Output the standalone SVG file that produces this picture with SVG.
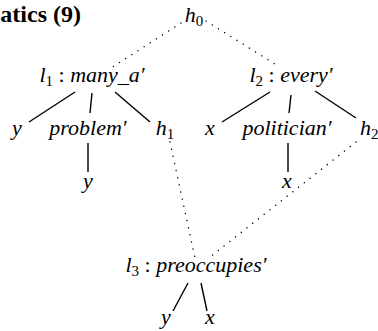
<svg xmlns="http://www.w3.org/2000/svg" width="378" height="331" viewBox="0 0 378 331">
<style>
  .m { font-family: 'Liberation Serif', 'Times New Roman', serif; font-style: italic; font-size: 22px; fill: #000; }
  .up { font-style: normal; }
  .sub { font-size: 15px; font-style: normal; }
  .title { font-family: 'Liberation Serif', 'Times New Roman', serif; font-weight: bold; font-size: 24px; fill: #000; }
  .edge { stroke: #000; stroke-width: 1.4; fill: none; }
  .dot { stroke: #000; stroke-width: 1.4; fill: none; stroke-dasharray: 0.1 7.2; stroke-linecap: round; }
</style>
<rect width="378" height="331" fill="#fff"/>
<text class="title" x="81" y="22" text-anchor="end">atics (9)</text>
<g id="connectors">
  <line class="dot" x1="181" y1="23" x2="111" y2="68"/>
  <line class="dot" x1="206" y1="21" x2="278" y2="66"/>
  <line class="dot" x1="170" y1="142" x2="195" y2="258"/>
  <line class="dot" x1="356" y1="142" x2="210" y2="257"/>
  <line class="edge" x1="75" y1="92" x2="29" y2="122"/>
  <line class="edge" x1="92" y1="93" x2="90" y2="113"/>
  <line class="edge" x1="115" y1="92" x2="150" y2="122"/>
  <line class="edge" x1="88" y1="143" x2="88" y2="172"/>
  <line class="edge" x1="270" y1="92" x2="222" y2="122"/>
  <line class="edge" x1="291" y1="95" x2="289" y2="113"/>
  <line class="edge" x1="315" y1="91" x2="356" y2="118"/>
  <line class="edge" x1="288" y1="143" x2="288" y2="172"/>
  <line class="edge" x1="188" y1="283" x2="173" y2="311"/>
  <line class="edge" x1="201" y1="283" x2="207" y2="311"/>
</g>
<g id="h0"><text class="m" x="194" y="22" text-anchor="middle">h<tspan class="sub" dy="4">0</tspan></text></g>
<g id="l1"><text class="m" x="92" y="82" text-anchor="middle">l<tspan class="sub" dy="4">1</tspan><tspan class="up" dy="-4"> : </tspan>many_a′</text></g>
<g id="l2"><text class="m" x="291" y="82" text-anchor="middle">l<tspan class="sub" dy="4">2</tspan><tspan class="up" dy="-4"> : </tspan>every′</text></g>
<g id="l3"><text class="m" x="196" y="272" text-anchor="middle">l<tspan class="sub" dy="4">3</tspan><tspan class="up" dy="-4"> : </tspan>preoccupies′</text></g>
<g id="y1"><text class="m" x="17" y="135" text-anchor="middle">y</text></g>
<g id="problem"><text class="m" x="88" y="135" text-anchor="middle">problem′</text></g>
<g id="h1"><text class="m" x="165" y="135" text-anchor="middle">h<tspan class="sub" dy="4">1</tspan></text></g>
<g id="y2"><text class="m" x="88" y="188" text-anchor="middle">y</text></g>
<g id="x1"><text class="m" x="210" y="135" text-anchor="middle">x</text></g>
<g id="politician"><text class="m" x="287" y="135" text-anchor="middle">politician′</text></g>
<g id="h2"><text class="m" x="360" y="135">h<tspan class="sub" dy="4">2</tspan></text></g>
<g id="x2"><text class="m" x="287" y="188" text-anchor="middle">x</text></g>
<g id="y3"><text class="m" x="166" y="324" text-anchor="middle">y</text></g>
<g id="x3"><text class="m" x="210" y="324" text-anchor="middle">x</text></g>
</svg>
